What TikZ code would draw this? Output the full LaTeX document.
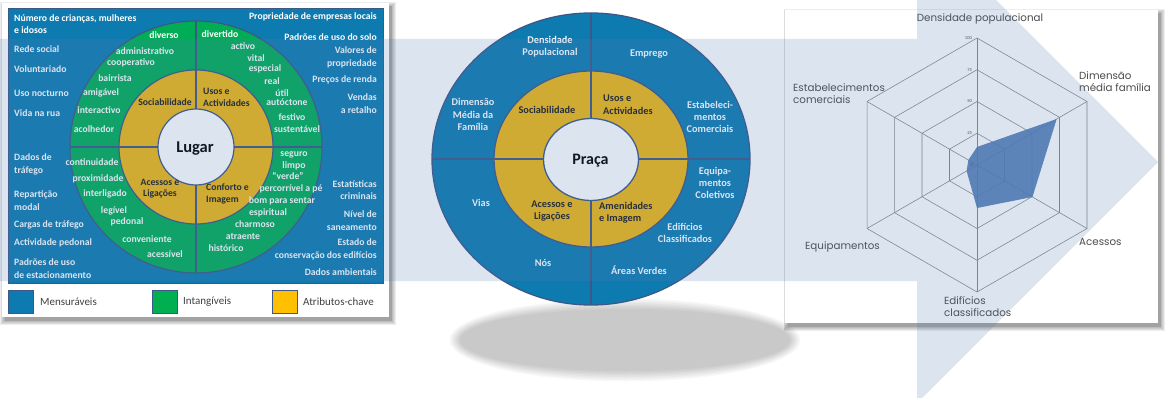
\documentclass[tikz,border=0pt]{standalone}
\usepackage{fontspec}
\setmainfont{Carlito}
\newfontfamily\radarfont{Poppins}
\definecolor{mblue}{RGB}{14,123,176}
\definecolor{mgreen}{RGB}{0,173,85}
\definecolor{myellow}{RGB}{240,184,20}
\definecolor{lgreen}{RGB}{0,176,80}
\definecolor{lyellow}{RGB}{255,192,0}
\definecolor{ringc}{RGB}{60,88,135}
\definecolor{overlayc}{RGB}{80,120,180}
\definecolor{radgray}{RGB}{75,75,75}
\definecolor{gridgray}{RGB}{135,135,135}
\definecolor{datafill}{RGB}{80,122,180}
\definecolor{legtext}{RGB}{64,64,64}
\definecolor{darktext}{RGB}{30,30,30}
\newcommand\mysoftshadow[4]{%
  \foreach \k in {0,...,5}{%
    \fill[black,opacity=0.07] ({#1+2.5-(5-\k)*0.8},{#2+3.5-(5-\k)*0.8}) rectangle ({#3+2.5+(5-\k)*0.8},{#4+3.5+(5-\k)*0.8});}}
\tikzset{
  wl/.style={text=white,font=\fontsize{9.7}{12.3}\selectfont\bfseries,inner sep=0pt,align=left,anchor=west},
  wr/.style={text=white,font=\fontsize{9.7}{12.3}\selectfont\bfseries,inner sep=0pt,align=right,anchor=east},
  wc/.style={text=white,font=\fontsize{9.7}{12.3}\selectfont\bfseries,inner sep=0pt,align=center},
  yl/.style={text=darktext,font=\fontsize{9.7}{11.5}\selectfont\bfseries,inner sep=0pt,align=left},
  pw/.style={text=white,font=\fontsize{10.3}{12.3}\selectfont\bfseries,inner sep=0pt,align=center},
  py/.style={text=darktext,font=\fontsize{10.3}{12.5}\selectfont\bfseries,inner sep=0pt,align=left},
  rl/.style={text=radgray,font=\radarfont\fontsize{10.3}{11.5}\selectfont,inner sep=0pt,align=left},
  sclab/.style={text=radgray,font=\fontsize{4.5}{5}\selectfont,inner sep=0pt,anchor=east},
  legbox/.style={draw=ringc,line width=0.8pt},
  legtxt/.style={text=legtext,font=\fontsize{11}{13}\selectfont,anchor=west,inner sep=0pt},
  ringline/.style={draw=ringc,line width=1.2pt},
  gridline/.style={draw=gridgray,line width=0.55pt},
}
\begin{document}
\begin{tikzpicture}[x=1pt,y=-1pt]
\useasboundingbox (0,0) rectangle (1166,398);
\fill[white] (0,0) rectangle (1166,398);

% ---------------- left panel ----------------
\mysoftshadow{2}{3}{389}{317}
\fill[white] (2,3) rectangle (389,317);
\filldraw[fill=mblue,draw=ringc,line width=0.6pt] (8,8) rectangle (383,283);
\filldraw[fill=mgreen,ringline] (196,147) circle [radius=126pt];
\filldraw[fill=myellow,ringline] (196,147) circle [radius=77pt];
\draw[ringline] (70,147) -- (322,147);
\draw[ringline] (196,21) -- (196,273);
\filldraw[fill=white,ringline] (196,147) circle [radius=38pt];
\node[text=black,font=\fontsize{16.5}{18}\selectfont\bfseries,inner sep=0pt,anchor=base] (lugar) at (195,153) {Lugar};

% measurable (blue) labels
\node[wl] (l1) at (14,24) {Número de crianças, mulheres\\e idosos};
\node[wl] (l2) at (14,49) {Rede social};
\node[wl] (l3) at (14,69) {Voluntariado};
\node[wl] (l4) at (14,93) {Uso nocturno};
\node[wl] (l5) at (14,113) {Vida na rua};
\node[wl] (l6) at (14,164.5) {Dados de\\tráfego};
\node[wl] (l7) at (14,200.5) {Repartição\\modal};
\node[wl] (l8) at (14,225) {Cargas de tráfego};
\node[wl] (l9) at (14,243) {Actividade pedonal};
\node[wl] (l10) at (14,268.5) {Padrões de uso\\de estacionamento};
\node[wr] (r1) at (377,17) {Propriedade de empresas locais};
\node[wr] (r2) at (377,37) {Padrões de uso do solo};
\node[wr] (r3) at (377,57.5) {Valores de\\propriedade};
\node[wr] (r4) at (377,80) {Preços de renda};
\node[wr] (r5) at (377,103.5) {Vendas\\a retalho};
\node[wr] (r6) at (377,190) {Estatísticas\\criminais};
\node[wr] (r7) at (377,220.5) {Nível de\\saneamento};
\node[wr] (r8) at (377,249.5) {Estado de\\conservação dos edifícios};
\node[wr] (r9) at (377,272) {Dados ambientais};

% intangible (green) labels
\node[wc] (g1) at (164,35) {diverso};
\node[wc] (g2) at (145,51) {administrativo};
\node[wc] (g3) at (131,63) {cooperativo};
\node[wc] (g4) at (115,78) {bairrista};
\node[wc] (g5) at (101,93) {amigável};
\node[wc] (g6) at (99,110) {interactivo};
\node[wc] (g7) at (94,129) {acolhedor};
\node[wc] (g8) at (220,34) {divertido};
\node[wc] (g9) at (243,46) {activo};
\node[wc] (g10) at (256,58) {vital};
\node[wc] (g11) at (265,69) {especial};
\node[wc] (g12) at (272,81) {real};
\node[wc] (g13) at (282,93) {útil};
\node[wc] (g14) at (287,102) {autóctone};
\node[wc] (g15) at (292,117) {festivo};
\node[wc] (g16) at (297,129) {sustentável};
\node[wc] (g17) at (92,162) {continuidade};
\node[wc] (g18) at (98,179) {proximidade};
\node[wc] (g19) at (105,194) {interligado};
\node[wc] (g20) at (114,211) {legível};
\node[wc] (g21) at (127,222) {pedonal};
\node[wc] (g22) at (147,239) {conveniente};
\node[wc] (g23) at (165,254) {acessível};
\node[wc] (g24) at (294,155) {seguro};
\node[wc] (g25) at (294,166) {limpo};
\node[wc] (g26) at (288,176) {“verde”};
\node[wc] (g27) at (291,189) {percorrível a pé};
\node[wc] (g28) at (282,201) {bom para sentar};
\node[wc] (g29) at (268,213) {espiritual};
\node[wc] (g30) at (255,224) {charmoso};
\node[wc] (g31) at (243,236) {atraente};
\node[wc] (g32) at (226,248) {histórico};

% key attributes (yellow)
\node[yl] (y1) at (165,102) {Sociabilidade};
\node[yl,anchor=west] (y2) at (203,97.5) {Usos e\\Actividades};
\node[yl,align=center] (y3) at (160,188.5) {Acessos e\\Ligações};
\node[yl,anchor=west] (y4) at (206,194) {Conforto e\\Imagem};

% legend
\filldraw[fill=mblue,legbox] (8,290) rectangle (33,313);
\node[legtxt] (k1) at (40,302) {Mensuráveis};
\filldraw[fill=lgreen,legbox] (152,290) rectangle (177,313);
\node[legtxt] (k2) at (183,302) {Intangíveis};
\filldraw[fill=lyellow,legbox] (272,290) rectangle (297,313);
\node[legtxt] (k3) at (303,302) {Atributos-chave};

% ---------------- Praça ----------------
\foreach \k in {0,...,7}{%
  \fill[black,opacity=0.026] (625,340) ellipse [x radius={165pt+1.5pt*(7-\k)}, y radius={31pt+1.5pt*(7-\k)}];}
\filldraw[fill=mblue,ringline,line width=1.3pt] (591,159) ellipse [x radius=159pt, y radius=146pt];
\filldraw[fill=myellow,ringline,line width=1.3pt] (591,159) ellipse [x radius=97pt, y radius=88pt];
\draw[ringline,line width=1.3pt] (432,159) -- (750,159);
\draw[ringline,line width=1.3pt] (591,13) -- (591,305);
\filldraw[fill=white,ringline,line width=1.3pt] (591,159.5) ellipse [x radius=47.5pt, y radius=41pt];
\node[text=black,font=\fontsize{16}{18}\selectfont\bfseries,inner sep=0pt,anchor=base] (praca) at (590.5,165) {Praça};

\node[pw] (p1) at (550,47) {Densidade\\Populacional};
\node[pw] (p2) at (649,54) {Emprego};
\node[pw] (p3) at (473,114.5) {Dimensão\\Média da\\Família};
\node[pw] (p4) at (710,117) {Estabeleci-\\mentos\\Comerciais};
\node[pw] (p5) at (715,183) {Equipa-\\mentos\\Coletivos};
\node[pw] (p6) at (685,233) {Edifícios\\Classificados};
\node[pw] (p7) at (639,270) {Áreas Verdes};
\node[pw] (p8) at (481,203) {Vias};
\node[pw] (p9) at (543,263) {Nós};
\node[py] (q1) at (547,110) {Sociabilidade};
\node[py,anchor=west] (q2) at (603,104.5) {Usos e\\Actividades};
\node[py,anchor=west] (q3) at (599,213) {Amenidades\\e Imagem};
\node[py,align=center] (q4) at (552,211) {Acessos e\\Ligações};

% ---------------- radar panel ----------------
\mysoftshadow{785}{10}{1158}{323}
\fill[white] (785,10) rectangle (1158,323);
\begin{scope}[shift={(977,165)}]
  \foreach \r in {31.75,63.5,95.25,127}{%
    \draw[gridline] (-90:\r) -- (-30:\r) -- (30:\r) -- (90:\r) -- (150:\r) -- (210:\r) -- cycle;}
  \foreach \a in {-90,-30,30,90,150,210}{%
    \draw[gridline] (0,0) -- (\a:127);}
  \fill[datafill,opacity=0.9] (-90:18) -- (-30:92) -- (30:64) -- (90:43) -- (150:12) -- (210:10) -- cycle;
  \node[sclab] (s100) at (-5,-127) {100};
  \node[sclab] (s75) at (-5,-95.25) {75};
  \node[sclab] (s50) at (-5,-63.5) {50};
  \node[sclab] (s25) at (-5,-31.75) {25};
  \node[sclab] (s0) at (-4,0) {0};
\end{scope}
\node[rl,align=center] (a1) at (980,19) {Densidade populacional};
\node[rl,anchor=west] (a2) at (1079,81.5) {Dimensão\\média família};
\node[rl,anchor=west] (a3) at (1079,242) {Acessos};
\node[rl,anchor=west] (a4) at (944,306.5) {Edifícios\\classificados};
\node[rl,anchor=west] (a5) at (805,247) {Equipamentos};
\node[rl,anchor=west] (a6) at (793,93.5) {Estabelecimentos\\comerciais};

% ---------------- band + chevron overlay ----------------
\fill[overlayc,opacity=0.2] (0,39) -- (917,39) -- (917,-79) -- (1158,162) -- (917,403) -- (917,281) -- (0,281) -- cycle;
\end{tikzpicture}
\end{document}
